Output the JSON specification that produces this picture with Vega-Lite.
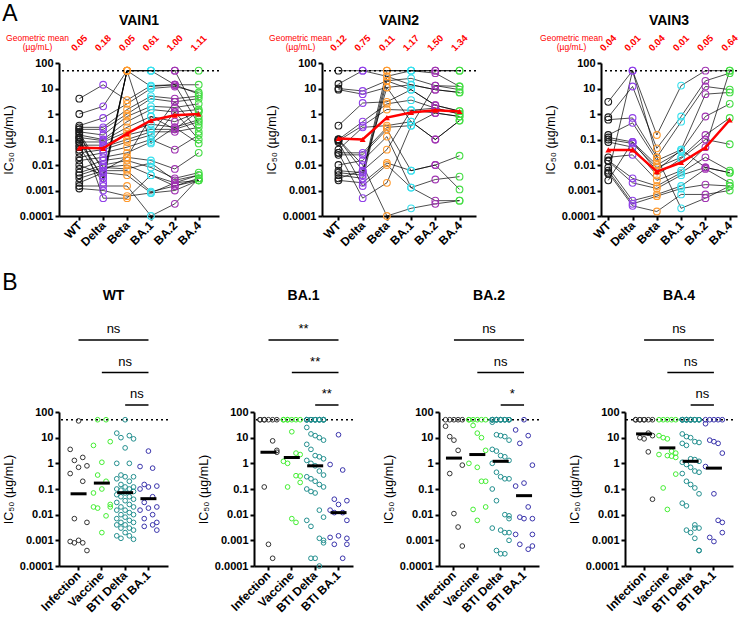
{
"$schema":"https://vega.github.io/schema/vega-lite/v6.json",
"background":"white",
"padding":{"left":2,"top":3,"right":2,"bottom":0},
"config":{
 "font":"Liberation Sans",
 "view":{"stroke":null},
 "axis":{"grid":false,"domainColor":"black","domainWidth":2,"tickColor":"black","tickWidth":2,"tickSize":4,"labelColor":"black","labelFontWeight":"bold","labelFontSize":11,"titleFontWeight":"normal","titleFontSize":12.5,"titleColor":"black","labelPadding":2},
 "axisX":{"labelFontSize":12},
 "title":{"fontSize":14,"fontWeight":"bold","color":"black"}
},
"resolve":{"scale":{"color":"independent"}},
"datasets":{
 "cats":[{"k":"WT","c":"WT"},{"k":"Delta","c":"Delta"},{"k":"Beta","c":"Beta"},{"k":"BA1","c":"BA.1"},{"k":"BA2","c":"BA.2"},{"k":"BA4","c":"BA.4"}],
 "a":[
  {"p":"VAIN1","s":1,"WT":4,"Delta":14,"Beta":3.5,"BA1":13,"BA2":14,"BA4":14},
  {"p":"VAIN1","s":2,"WT":1,"Delta":2,"Beta":50,"BA1":50,"BA2":50,"BA4":50},
  {"p":"VAIN1","s":3,"WT":0.35,"Delta":0.7,"Beta":2.5,"BA1":10,"BA2":12,"BA4":7},
  {"p":"VAIN1","s":4,"WT":0.3,"Delta":0.3,"Beta":1.5,"BA1":5,"BA2":4,"BA4":5},
  {"p":"VAIN1","s":5,"WT":0.25,"Delta":0.25,"Beta":1,"BA1":4,"BA2":3,"BA4":4},
  {"p":"VAIN1","s":6,"WT":0.2,"Delta":0.15,"Beta":0.8,"BA1":2,"BA2":1.8,"BA4":2.5},
  {"p":"VAIN1","s":7,"WT":0.15,"Delta":0.1,"Beta":0.5,"BA1":1.5,"BA2":1.2,"BA4":1.5},
  {"p":"VAIN1","s":8,"WT":0.12,"Delta":0.09,"Beta":0.3,"BA1":0.8,"BA2":0.5,"BA4":1.2},
  {"p":"VAIN1","s":9,"WT":0.1,"Delta":0.003,"Beta":50,"BA1":50,"BA2":50,"BA4":0.8},
  {"p":"VAIN1","s":10,"WT":0.08,"Delta":0.08,"Beta":0.2,"BA1":0.4,"BA2":0.3,"BA4":0.6},
  {"p":"VAIN1","s":11,"WT":0.06,"Delta":0.06,"Beta":0.15,"BA1":0.25,"BA2":0.25,"BA4":0.5},
  {"p":"VAIN1","s":12,"WT":0.05,"Delta":0.002,"Beta":50,"BA1":50,"BA2":14,"BA4":0.4},
  {"p":"VAIN1","s":13,"WT":0.04,"Delta":0.05,"Beta":0.1,"BA1":0.2,"BA2":0.2,"BA4":0.3},
  {"p":"VAIN1","s":14,"WT":0.03,"Delta":0.04,"Beta":0.08,"BA1":0.15,"BA2":3,"BA4":0.2},
  {"p":"VAIN1","s":15,"WT":0.02,"Delta":0.03,"Beta":0.05,"BA1":0.1,"BA2":0.04,"BA4":0.15},
  {"p":"VAIN1","s":16,"WT":0.015,"Delta":0.02,"Beta":0.03,"BA1":0.08,"BA2":1.2,"BA4":0.1},
  {"p":"VAIN1","s":17,"WT":0.01,"Delta":0.004,"Beta":50,"BA1":0.07,"BA2":0.3,"BA4":0.07},
  {"p":"VAIN1","s":18,"WT":0.007,"Delta":0.015,"Beta":0.02,"BA1":0.015,"BA2":0.007,"BA4":0.03},
  {"p":"VAIN1","s":19,"WT":0.005,"Delta":0.01,"Beta":0.015,"BA1":0.008,"BA2":0.003,"BA4":0.005},
  {"p":"VAIN1","s":20,"WT":0.004,"Delta":0.008,"Beta":0.01,"BA1":0.004,"BA2":0.002,"BA4":0.004},
  {"p":"VAIN1","s":21,"WT":0.003,"Delta":0.006,"Beta":0.006,"BA1":0.0009,"BA2":0.0015,"BA4":0.003},
  {"p":"VAIN1","s":22,"WT":0.002,"Delta":0.005,"Beta":0.004,"BA1":0.0008,"BA2":0.001,"BA4":0.0025},
  {"p":"VAIN1","s":23,"WT":0.0015,"Delta":0.0015,"Beta":0.0015,"BA1":0.0001,"BA2":0.0003,"BA4":0.003},
  {"p":"VAIN1","s":24,"WT":0.0012,"Delta":0.001,"Beta":0.0006,"BA1":0.0008,"BA2":0.002,"BA4":0.0025},
  {"p":"VAIN1","s":25,"WT":0.25,"Delta":0.0005,"Beta":0.0005,"BA1":0.004,"BA2":0.0015,"BA4":0.0025},
  {"p":"VAIN1","s":26,"WT":0.08,"Delta":0.003,"Beta":50,"BA1":12,"BA2":14,"BA4":6},
  {"p":"VAIN1","s":27,"WT":0.18,"Delta":0.006,"Beta":0.02,"BA1":0.8,"BA2":0.25,"BA4":1.3},
  {"p":"VAIN1","s":28,"WT":0.12,"Delta":0.008,"Beta":0.007,"BA1":0.012,"BA2":0.0025,"BA4":0.004},
  {"p":"VAIN2","s":1,"WT":50,"Delta":50,"Beta":50,"BA1":50,"BA2":50,"BA4":50},
  {"p":"VAIN2","s":2,"WT":15,"Delta":50,"Beta":30,"BA1":50,"BA2":40,"BA4":12},
  {"p":"VAIN2","s":3,"WT":10,"Delta":8,"Beta":20,"BA1":25,"BA2":13,"BA4":9},
  {"p":"VAIN2","s":4,"WT":9,"Delta":6,"Beta":11,"BA1":14,"BA2":9,"BA4":7},
  {"p":"VAIN2","s":5,"WT":0.35,"Delta":2.7,"Beta":3,"BA1":9,"BA2":2.2,"BA4":1.3},
  {"p":"VAIN2","s":6,"WT":0.1,"Delta":0.5,"Beta":2.5,"BA1":3.5,"BA2":1.7,"BA4":1},
  {"p":"VAIN2","s":7,"WT":0.09,"Delta":0.35,"Beta":1.5,"BA1":1.4,"BA2":1.1,"BA4":0.8},
  {"p":"VAIN2","s":8,"WT":0.04,"Delta":0.3,"Beta":0.35,"BA1":0.5,"BA2":0.1,"BA4":0.55},
  {"p":"VAIN2","s":9,"WT":0.03,"Delta":0.03,"Beta":0.3,"BA1":0.35,"BA2":13,"BA4":12},
  {"p":"VAIN2","s":10,"WT":0.025,"Delta":0.025,"Beta":0.25,"BA1":0.006,"BA2":0.01,"BA4":0.023},
  {"p":"VAIN2","s":11,"WT":0.01,"Delta":0.015,"Beta":0.13,"BA1":0.0013,"BA2":0.0027,"BA4":0.0035},
  {"p":"VAIN2","s":12,"WT":0.006,"Delta":0.005,"Beta":50,"BA1":50,"BA2":50,"BA4":50},
  {"p":"VAIN2","s":13,"WT":0.005,"Delta":0.004,"Beta":30,"BA1":14,"BA2":9,"BA4":7},
  {"p":"VAIN2","s":14,"WT":0.004,"Delta":0.003,"Beta":20,"BA1":9,"BA2":2.2,"BA4":1.3},
  {"p":"VAIN2","s":15,"WT":0.003,"Delta":0.006,"Beta":0.04,"BA1":1.4,"BA2":1.7,"BA4":1},
  {"p":"VAIN2","s":16,"WT":0.0025,"Delta":0.002,"Beta":0.012,"BA1":0.006,"BA2":0.01,"BA4":0.0011},
  {"p":"VAIN2","s":17,"WT":0.1,"Delta":0.01,"Beta":0.0001,"BA1":0.0002,"BA2":0.0003,"BA4":0.0004},
  {"p":"VAIN2","s":18,"WT":0.08,"Delta":0.0015,"Beta":0.01,"BA1":0.0013,"BA2":0.0004,"BA4":0.0004},
  {"p":"VAIN2","s":19,"WT":0.03,"Delta":0.0005,"Beta":0.002,"BA1":0.35,"BA2":1.1,"BA4":0.8},
  {"p":"VAIN2","s":20,"WT":0.1,"Delta":0.006,"Beta":11,"BA1":0.5,"BA2":0.1,"BA4":0.55},
  {"p":"VAIN3","s":1,"WT":3,"Delta":50,"Beta":0.15,"BA1":13,"BA2":50,"BA4":50},
  {"p":"VAIN3","s":2,"WT":0.75,"Delta":12,"Beta":0.045,"BA1":0.8,"BA2":20,"BA4":40},
  {"p":"VAIN3","s":3,"WT":0.6,"Delta":0.7,"Beta":0.02,"BA1":0.5,"BA2":12,"BA4":9},
  {"p":"VAIN3","s":4,"WT":0.15,"Delta":0.45,"Beta":0.015,"BA1":0.04,"BA2":6,"BA4":7},
  {"p":"VAIN3","s":5,"WT":0.12,"Delta":0.08,"Beta":0.01,"BA1":0.035,"BA2":0.8,"BA4":2.5},
  {"p":"VAIN3","s":6,"WT":0.1,"Delta":0.07,"Beta":0.008,"BA1":0.02,"BA2":0.15,"BA4":0.7},
  {"p":"VAIN3","s":7,"WT":0.08,"Delta":0.05,"Beta":0.004,"BA1":0.018,"BA2":0.1,"BA4":0.065},
  {"p":"VAIN3","s":8,"WT":0.02,"Delta":0.025,"Beta":0.0025,"BA1":0.006,"BA2":0.05,"BA4":50},
  {"p":"VAIN3","s":9,"WT":0.015,"Delta":0.003,"Beta":0.0015,"BA1":0.005,"BA2":0.02,"BA4":0.006},
  {"p":"VAIN3","s":10,"WT":0.014,"Delta":0.002,"Beta":0.0012,"BA1":0.004,"BA2":0.008,"BA4":0.005},
  {"p":"VAIN3","s":11,"WT":0.008,"Delta":0.0004,"Beta":0.0007,"BA1":0.0015,"BA2":0.007,"BA4":0.002},
  {"p":"VAIN3","s":12,"WT":0.006,"Delta":0.0003,"Beta":0.0006,"BA1":0.0012,"BA2":0.0017,"BA4":0.0015},
  {"p":"VAIN3","s":13,"WT":0.005,"Delta":0.00025,"Beta":0.00015,"BA1":0.0007,"BA2":0.0007,"BA4":0.001},
  {"p":"VAIN3","s":14,"WT":0.0045,"Delta":50,"Beta":0.02,"BA1":0.0002,"BA2":0.0005,"BA4":0.0015},
  {"p":"VAIN3","s":15,"WT":0.0025,"Delta":0.08,"Beta":0.006,"BA1":0.04,"BA2":0.008,"BA4":0.005}
 ],
 "gm":[
  {"p":"VAIN1","c":"WT","m":0.047,"lab":"0.05"},{"p":"VAIN1","c":"Delta","m":0.045,"lab":"0.18"},{"p":"VAIN1","c":"Beta","m":0.17,"lab":"0.05"},{"p":"VAIN1","c":"BA.1","m":0.56,"lab":"0.61"},{"p":"VAIN1","c":"BA.2","m":0.9,"lab":"1.00"},{"p":"VAIN1","c":"BA.4","m":1.0,"lab":"1.11"},
  {"p":"VAIN2","c":"WT","m":0.11,"lab":"0.12"},{"p":"VAIN2","c":"Delta","m":0.1,"lab":"0.75"},{"p":"VAIN2","c":"Beta","m":0.72,"lab":"0.11"},{"p":"VAIN2","c":"BA.1","m":1.15,"lab":"1.17"},{"p":"VAIN2","c":"BA.2","m":1.4,"lab":"1.50"},{"p":"VAIN2","c":"BA.4","m":1.25,"lab":"1.34"},
  {"p":"VAIN3","c":"WT","m":0.039,"lab":"0.04"},{"p":"VAIN3","c":"Delta","m":0.039,"lab":"0.01"},{"p":"VAIN3","c":"Beta","m":0.0055,"lab":"0.04"},{"p":"VAIN3","c":"BA.1","m":0.0125,"lab":"0.01"},{"p":"VAIN3","c":"BA.2","m":0.048,"lab":"0.05"},{"p":"VAIN3","c":"BA.4","m":0.58,"lab":"0.64"}
 ],
 "b":[
  {"p":"WT","g":"Infection","v":[3.5,0.4,0.0009,1.3,0.007,0.0008,45,0.7,0.001,1.7,0.2,0.0008,0.8,0.005,0.0004]},
  {"p":"WT","g":"Vaccine","v":[5,0.07,0.02,50,0.35,0.018,1.1,0.1,0.002,50,0.2,0.009,7,0.025,0.02]},
  {"p":"WT","g":"BTI Delta","v":[15,1,0.25,0.1,0.06,0.03,0.015,0.007,0.004,0.0015,10,0.35,0.15,0.09,0.05,0.02,0.01,0.005,0.003,0.0012,50,4,0.3,0.12,0.07,0.035,0.015,0.008,0.004,0.002,12,1,0.2,0.1,0.05,0.025,0.012,0.006,0.003,0.0015,9,0.3,0.12,0.08,0.04,0.02,0.01,0.005,0.0025,0.0011]},
  {"p":"WT","g":"BTI BA.1","v":[0.75,0.1,0.015,0.0035,0.15,0.03,0.007,3,0.12,0.018,0.004,0.65,0.05,0.01,0.0025,0.13,0.02,0.005]},
  {"p":"BA.1","g":"Infection","v":[50,50,0.12,50,50,0.0007,50,7.5,0.0002,50,3.2,50,2.7]},
  {"p":"BA.1","g":"Vaccine","v":[50,50,1.2,0.12,50,50,1,0.007,50,17,0.33,0.005,50,2.5,0.32,50,2.2,0.18]},
  {"p":"BA.1","g":"BTI Delta","v":[50,50,50,50,25,5.5,1.3,0.3,0.1,0.006,0.0002,50,50,50,50,14,3.5,1,0.25,0.08,0.0035,0.0002,50,50,50,50,12,2,0.8,0.2,0.07,0.0012,0.0001,50,50,50,50,10,1.8,0.5,0.15,0.015,0.001,50,50,50,50,8,1.5,0.35,0.12,0.008,0.0008]},
  {"p":"BA.1","g":"BTI BA.1","v":[0.9,0.015,0.0013,0.04,0.012,0.0007,13,0.025,0.0015,0.0002,0.55,0.012,0.0012,0.035,0.006,0.0007]},
  {"p":"BA.2","g":"Infection","v":[50,28,0.4,50,11,0.011,50,8,0.0033,50,3.2,0.0006,50,0.85]},
  {"p":"BA.2","g":"Vaccine","v":[50,50,1,0.016,50,30,0.7,0.006,50,15,0.2,50,10,0.2,50,3.2,0.02]},
  {"p":"BA.2","g":"BTI Delta","v":[50,50,50,50,40,3.5,1,0.1,0.003,0.0004,50,50,50,50,13,3,0.45,0.035,0.0025,0.0003,50,50,50,50,12,2,0.3,0.01,0.002,0.0003,50,50,50,11,1.8,0.25,0.009,0.002,50,50,50,8,1.3,0.25,0.007,0.001]},
  {"p":"BA.2","g":"BTI BA.1","v":[20,0.13,0.0017,6,0.008,0.0007,50,0.17,0.007,0.00045,12,0.02,0.0017,0.85,0.007,0.0006]},
  {"p":"BA.4","g":"Infection","v":[50,50,10,50,50,9,50,50,2.8,50,15,0.04,50,12]},
  {"p":"BA.4","g":"Vaccine","v":[50,12,2.2,0.11,50,10,2,0.016,50,9,1.9,50,3,1.7,50,2.5,0.38]},
  {"p":"BA.4","g":"BTI Delta","v":[50,50,50,50,14,6,1.1,0.4,0.028,0.0025,50,50,50,50,11,5,0.9,0.2,0.022,0.002,50,50,50,50,10,1.5,0.7,0.15,0.004,0.0012,50,50,50,7,1.4,0.5,0.11,0.003,0.0004,50,50,50,6.5,1.2,0.45,0.065,0.003,0.0004]},
  {"p":"BA.4","g":"BTI BA.1","v":[50,35,0.75,0.0013,50,8,0.065,0.0009,50,7,0.006,50,6,0.005,50,2.5,0.002]}
 ],
 "med":[
  {"p":"WT","g":"Infection","m":0.065},{"p":"WT","g":"Vaccine","m":0.17},{"p":"WT","g":"BTI Delta","m":0.072},{"p":"WT","g":"BTI BA.1","m":0.042},
  {"p":"BA.1","g":"Infection","m":2.7},{"p":"BA.1","g":"Vaccine","m":1.7},{"p":"BA.1","g":"BTI Delta","m":0.8},{"p":"BA.1","g":"BTI BA.1","m":0.012},
  {"p":"BA.2","g":"Infection","m":1.6},{"p":"BA.2","g":"Vaccine","m":2.2},{"p":"BA.2","g":"BTI Delta","m":1.2},{"p":"BA.2","g":"BTI BA.1","m":0.055},
  {"p":"BA.4","g":"Infection","m":14},{"p":"BA.4","g":"Vaccine","m":4},{"p":"BA.4","g":"BTI Delta","m":1.2},{"p":"BA.4","g":"BTI BA.1","m":0.65}
 ],
 "sig":[
  {"p":"WT","k":1,"g":1,"lab":"ns"},{"p":"WT","k":1,"g":4,"lab":"ns"},{"p":"WT","k":2,"g":2,"lab":"ns"},{"p":"WT","k":2,"g":4,"lab":"ns"},{"p":"WT","k":3,"g":3,"lab":"ns"},{"p":"WT","k":3,"g":4,"lab":"ns"},
  {"p":"BA.1","k":1,"g":1,"lab":"**"},{"p":"BA.1","k":1,"g":4,"lab":"**"},{"p":"BA.1","k":2,"g":2,"lab":"**"},{"p":"BA.1","k":2,"g":4,"lab":"**"},{"p":"BA.1","k":3,"g":3,"lab":"**"},{"p":"BA.1","k":3,"g":4,"lab":"**"},
  {"p":"BA.2","k":1,"g":1,"lab":"ns"},{"p":"BA.2","k":1,"g":4,"lab":"ns"},{"p":"BA.2","k":2,"g":2,"lab":"ns"},{"p":"BA.2","k":2,"g":4,"lab":"ns"},{"p":"BA.2","k":3,"g":3,"lab":"*"},{"p":"BA.2","k":3,"g":4,"lab":"*"},
  {"p":"BA.4","k":1,"g":1,"lab":"ns"},{"p":"BA.4","k":1,"g":4,"lab":"ns"},{"p":"BA.4","k":2,"g":2,"lab":"ns"},{"p":"BA.4","k":2,"g":4,"lab":"ns"},{"p":"BA.4","k":3,"g":3,"lab":"ns"},{"p":"BA.4","k":3,"g":4,"lab":"ns"}
 ]
},
"vconcat":[
 {"title":{"text":"A","anchor":"start","fontSize":23,"fontWeight":"normal","offset":-12},
  "spacing":45,
  "hconcat":[
   {"title":{"text":"VAIN1","offset":5},"width":160,"height":153,
    "layer":[
     {"data":{"name":"a"},"transform":[{"filter":"datum.p=='VAIN1'"},{"fold":["WT","Delta","Beta","BA1","BA2","BA4"],"as":["k","v"]},{"lookup":"k","from":{"data":{"name":"cats"},"key":"k","fields":["c"]}}],
      "layer":[
       {"mark":{"type":"line","color":"black","strokeWidth":0.7},"encoding":{"x":{"field":"c","type":"nominal","sort":["WT","Delta","Beta","BA.1","BA.2","BA.4"],"scale":{"type":"point","padding":0.85},"axis":{"orient":"bottom","title":null,"labelAngle":-45,"labelAlign":"right","labelBaseline":"middle","labelPadding":3}},"y":{"field":"v","type":"quantitative","scale":{"type":"log","domain":[0.0001,100],"nice":false},"axis":{"values":[100,10,1,0.1,0.01,0.001,0.0001],"format":"~g","title":"IC₅₀ (µg/mL)","titlePadding":4}},"detail":{"field":"s","type":"nominal"}}},
       {"mark":{"type":"point","shape":"circle","filled":false,"size":45,"strokeWidth":1.1,"opacity":1},"encoding":{"x":{"field":"c","type":"nominal","sort":["WT","Delta","Beta","BA.1","BA.2","BA.4"],"scale":{"type":"point","padding":0.85}},"y":{"field":"v","type":"quantitative","scale":{"type":"log","domain":[0.0001,100],"nice":false}},"color":{"field":"c","type":"nominal","scale":{"domain":["WT","Delta","Beta","BA.1","BA.2","BA.4"],"range":["#1a1a1a","#9040e8","#ff9a2e","#38e0ee","#a032b2","#44dd44"]},"legend":null}}}
      ]},
     {"data":{"values":[{}]},"mark":{"type":"rule","strokeDash":[2,3],"strokeWidth":1.5,"color":"black"},"encoding":{"y":{"datum":50,"type":"quantitative","scale":{"type":"log","domain":[0.0001,100],"nice":false}}}},
     {"data":{"name":"gm"},"transform":[{"filter":"datum.p=='VAIN1'"}],
      "layer":[
       {"mark":{"type":"line","color":"#ff0000","strokeWidth":2.5,"point":{"shape":"triangle-up","size":35,"filled":true,"color":"#ff0000"}},"encoding":{"x":{"field":"c","type":"nominal","sort":["WT","Delta","Beta","BA.1","BA.2","BA.4"],"scale":{"type":"point","padding":0.85}},"y":{"field":"m","type":"quantitative","scale":{"type":"log","domain":[0.0001,100],"nice":false}}}},
       {"mark":{"type":"text","angle":-45,"color":"#ff0000","fontSize":9.5,"fontWeight":"bold","align":"center","baseline":"middle"},"encoding":{"x":{"field":"c","type":"nominal","sort":["WT","Delta","Beta","BA.1","BA.2","BA.4"],"scale":{"type":"point","padding":0.85},"axis":{"orient":"top","labels":false,"ticks":false,"domain":false,"title":["Geometric mean","(µg/mL)"],"titleColor":"#ff0000","titleFontSize":8.5,"titleFontWeight":"normal","titleAngle":0,"titleAlign":"center","titleBaseline":"alphabetic","titleX":-22,"titleY":-23,"titleLineHeight":9.5}},"y":{"datum":600,"type":"quantitative","scale":{"type":"log","domain":[0.0001,100],"nice":false}},"text":{"field":"lab","type":"nominal"}}}
      ]}
    ],
    "resolve":{"axis":{"x":"independent"}}},
   {"spacing":62,
    "hconcat":[
     {"title":{"text":"VAIN2","offset":5},"width":154,"height":153,
      "layer":[
       {"data":{"name":"a"},"transform":[{"filter":"datum.p=='VAIN2'"},{"fold":["WT","Delta","Beta","BA1","BA2","BA4"],"as":["k","v"]},{"lookup":"k","from":{"data":{"name":"cats"},"key":"k","fields":["c"]}}],
        "layer":[
         {"mark":{"type":"line","color":"black","strokeWidth":0.7},"encoding":{"x":{"field":"c","type":"nominal","sort":["WT","Delta","Beta","BA.1","BA.2","BA.4"],"scale":{"type":"point","padding":0.68},"axis":{"orient":"bottom","title":null,"labelAngle":-45,"labelAlign":"right","labelBaseline":"middle","labelPadding":3}},"y":{"field":"v","type":"quantitative","scale":{"type":"log","domain":[0.0001,100],"nice":false},"axis":{"values":[100,10,1,0.1,0.01,0.001,0.0001],"format":"~g","title":"IC₅₀ (µg/mL)","titlePadding":4}},"detail":{"field":"s","type":"nominal"}}},
         {"mark":{"type":"point","shape":"circle","filled":false,"size":45,"strokeWidth":1.1,"opacity":1},"encoding":{"x":{"field":"c","type":"nominal","sort":["WT","Delta","Beta","BA.1","BA.2","BA.4"],"scale":{"type":"point","padding":0.68}},"y":{"field":"v","type":"quantitative","scale":{"type":"log","domain":[0.0001,100],"nice":false}},"color":{"field":"c","type":"nominal","scale":{"domain":["WT","Delta","Beta","BA.1","BA.2","BA.4"],"range":["#1a1a1a","#9040e8","#ff9a2e","#38e0ee","#a032b2","#44dd44"]},"legend":null}}}
        ]},
       {"data":{"values":[{}]},"mark":{"type":"rule","strokeDash":[2,3],"strokeWidth":1.5,"color":"black"},"encoding":{"y":{"datum":50,"type":"quantitative","scale":{"type":"log","domain":[0.0001,100],"nice":false}}}},
       {"data":{"name":"gm"},"transform":[{"filter":"datum.p=='VAIN2'"}],
        "layer":[
         {"mark":{"type":"line","color":"#ff0000","strokeWidth":2.5,"point":{"shape":"triangle-up","size":35,"filled":true,"color":"#ff0000"}},"encoding":{"x":{"field":"c","type":"nominal","sort":["WT","Delta","Beta","BA.1","BA.2","BA.4"],"scale":{"type":"point","padding":0.68}},"y":{"field":"m","type":"quantitative","scale":{"type":"log","domain":[0.0001,100],"nice":false}}}},
         {"mark":{"type":"text","angle":-45,"color":"#ff0000","fontSize":9.5,"fontWeight":"bold","align":"center","baseline":"middle"},"encoding":{"x":{"field":"c","type":"nominal","sort":["WT","Delta","Beta","BA.1","BA.2","BA.4"],"scale":{"type":"point","padding":0.68},"axis":{"orient":"top","labels":false,"ticks":false,"domain":false,"title":["Geometric mean","(µg/mL)"],"titleColor":"#ff0000","titleFontSize":8.5,"titleFontWeight":"normal","titleAngle":0,"titleAlign":"center","titleBaseline":"alphabetic","titleX":-22,"titleY":-23,"titleLineHeight":9.5}},"y":{"datum":600,"type":"quantitative","scale":{"type":"log","domain":[0.0001,100],"nice":false}},"text":{"field":"lab","type":"nominal"}}}
        ]}
      ],
      "resolve":{"axis":{"x":"independent"}}},
     {"title":{"text":"VAIN3","offset":5},"width":136,"height":153,
      "layer":[
       {"data":{"name":"a"},"transform":[{"filter":"datum.p=='VAIN3'"},{"fold":["WT","Delta","Beta","BA1","BA2","BA4"],"as":["k","v"]},{"lookup":"k","from":{"data":{"name":"cats"},"key":"k","fields":["c"]}}],
        "layer":[
         {"mark":{"type":"line","color":"black","strokeWidth":0.7},"encoding":{"x":{"field":"c","type":"nominal","sort":["WT","Delta","Beta","BA.1","BA.2","BA.4"],"scale":{"type":"point","padding":0.3},"axis":{"orient":"bottom","title":null,"labelAngle":-45,"labelAlign":"right","labelBaseline":"middle","labelPadding":3}},"y":{"field":"v","type":"quantitative","scale":{"type":"log","domain":[0.0001,100],"nice":false},"axis":{"values":[100,10,1,0.1,0.01,0.001,0.0001],"format":"~g","title":"IC₅₀ (µg/mL)","titlePadding":4}},"detail":{"field":"s","type":"nominal"}}},
         {"mark":{"type":"point","shape":"circle","filled":false,"size":45,"strokeWidth":1.1,"opacity":1},"encoding":{"x":{"field":"c","type":"nominal","sort":["WT","Delta","Beta","BA.1","BA.2","BA.4"],"scale":{"type":"point","padding":0.3}},"y":{"field":"v","type":"quantitative","scale":{"type":"log","domain":[0.0001,100],"nice":false}},"color":{"field":"c","type":"nominal","scale":{"domain":["WT","Delta","Beta","BA.1","BA.2","BA.4"],"range":["#1a1a1a","#9040e8","#ff9a2e","#38e0ee","#a032b2","#44dd44"]},"legend":null}}}
        ]},
       {"data":{"values":[{}]},"mark":{"type":"rule","strokeDash":[2,3],"strokeWidth":1.5,"color":"black"},"encoding":{"y":{"datum":50,"type":"quantitative","scale":{"type":"log","domain":[0.0001,100],"nice":false}}}},
       {"data":{"name":"gm"},"transform":[{"filter":"datum.p=='VAIN3'"}],
        "layer":[
         {"mark":{"type":"line","color":"#ff0000","strokeWidth":2.5,"point":{"shape":"triangle-up","size":35,"filled":true,"color":"#ff0000"}},"encoding":{"x":{"field":"c","type":"nominal","sort":["WT","Delta","Beta","BA.1","BA.2","BA.4"],"scale":{"type":"point","padding":0.3}},"y":{"field":"m","type":"quantitative","scale":{"type":"log","domain":[0.0001,100],"nice":false}}}},
         {"mark":{"type":"text","angle":-45,"color":"#ff0000","fontSize":9.5,"fontWeight":"bold","align":"center","baseline":"middle"},"encoding":{"x":{"field":"c","type":"nominal","sort":["WT","Delta","Beta","BA.1","BA.2","BA.4"],"scale":{"type":"point","padding":0.3},"axis":{"orient":"top","labels":false,"ticks":false,"domain":false,"title":["Geometric mean","(µg/mL)"],"titleColor":"#ff0000","titleFontSize":8.5,"titleFontWeight":"normal","titleAngle":0,"titleAlign":"center","titleBaseline":"alphabetic","titleX":-30,"titleY":-23,"titleLineHeight":9.5}},"y":{"datum":600,"type":"quantitative","scale":{"type":"log","domain":[0.0001,100],"nice":false}},"text":{"field":"lab","type":"nominal"}}}
        ]}
      ],
      "resolve":{"axis":{"x":"independent"}}}
    ]}
  ]},
 {"title":{"text":"B","anchor":"start","fontSize":23,"fontWeight":"normal","offset":-6},
  "spacing":28,
  "hconcat":[
   {"spacing":0,"vconcat":[
     {"title":{"text":"WT","offset":20},"width":109,"height":65,"data":{"name":"sig"},"transform":[{"filter":"datum.p=='WT'"}],
      "layer":[
       {"mark":{"type":"rule","color":"black","strokeWidth":1.5},"encoding":{"x":{"aggregate":"min","field":"g","type":"quantitative","scale":{"domain":[0.163,4.837],"nice":false,"zero":false},"axis":null},"x2":{"aggregate":"max","field":"g"},"y":{"field":"k","type":"ordinal","scale":{"type":"point","padding":0},"axis":null}}},
       {"mark":{"type":"text","dy":-11,"fontSize":13,"color":"black","baseline":"middle"},"encoding":{"x":{"aggregate":"mean","field":"g","type":"quantitative","axis":null},"y":{"field":"k","type":"ordinal","axis":null},"text":{"field":"lab","type":"nominal"}}}
      ]},
     {"width":109,"height":154,
      "layer":[
       {"data":{"values":[{}]},"mark":{"type":"rule","strokeDash":[2,3],"strokeWidth":1.5,"color":"black"},"encoding":{"y":{"datum":50,"type":"quantitative","scale":{"type":"log","domain":[0.0001,100],"nice":false}}}},
       {"data":{"name":"b"},"transform":[{"filter":"datum.p=='WT'"},{"flatten":["v"]},{"window":[{"op":"ntile","param":5,"as":"lane"}],"groupby":["g"]}],
        "mark":{"type":"point","shape":"circle","filled":false,"size":22,"strokeWidth":1,"opacity":1},
        "encoding":{"x":{"field":"g","type":"nominal","sort":["Infection","Vaccine","BTI Delta","BTI BA.1"],"scale":{"paddingInner":0.1,"paddingOuter":0.39},"axis":{"title":null,"labelAngle":-45,"labelAlign":"right","labelBaseline":"middle","labelPadding":3}},"xOffset":{"field":"lane","type":"ordinal","scale":{"domain":[1,2,3,4,5]}},"y":{"field":"v","type":"quantitative","scale":{"type":"log","domain":[0.0001,100],"nice":false},"axis":{"values":[100,10,1,0.1,0.01,0.001,0.0001],"format":"~g","title":"IC₅₀ (µg/mL)","titlePadding":4}},"color":{"field":"g","type":"nominal","scale":{"domain":["Infection","Vaccine","BTI Delta","BTI BA.1"],"range":["#333333","#44ee33","#238f8f","#3a34ac"]},"legend":null}}},
       {"data":{"name":"med"},"transform":[{"filter":"datum.p=='WT'"}],"mark":{"type":"tick","color":"black","opacity":1,"thickness":3,"size":16},"encoding":{"x":{"field":"g","type":"nominal","sort":["Infection","Vaccine","BTI Delta","BTI BA.1"]},"y":{"field":"m","type":"quantitative","scale":{"type":"log","domain":[0.0001,100],"nice":false}}}}
      ]}
   ]},
   {"spacing":0,"vconcat":[
     {"title":{"text":"BA.1","offset":20},"width":99,"height":65,"data":{"name":"sig"},"transform":[{"filter":"datum.p=='BA.1'"}],
      "layer":[
       {"mark":{"type":"rule","color":"black","strokeWidth":1.5},"encoding":{"x":{"aggregate":"min","field":"g","type":"quantitative","scale":{"domain":[0.379,4.621],"nice":false,"zero":false},"axis":null},"x2":{"aggregate":"max","field":"g"},"y":{"field":"k","type":"ordinal","scale":{"type":"point","padding":0},"axis":null}}},
       {"mark":{"type":"text","dy":-11,"fontSize":13,"color":"black","baseline":"middle"},"encoding":{"x":{"aggregate":"mean","field":"g","type":"quantitative","axis":null},"y":{"field":"k","type":"ordinal","axis":null},"text":{"field":"lab","type":"nominal"}}}
      ]},
     {"width":99,"height":154,
      "layer":[
       {"data":{"values":[{}]},"mark":{"type":"rule","strokeDash":[2,3],"strokeWidth":1.5,"color":"black"},"encoding":{"y":{"datum":50,"type":"quantitative","scale":{"type":"log","domain":[0.0001,100],"nice":false}}}},
       {"data":{"name":"b"},"transform":[{"filter":"datum.p=='BA.1'"},{"flatten":["v"]},{"window":[{"op":"ntile","param":5,"as":"lane"}],"groupby":["g"]}],
        "mark":{"type":"point","shape":"circle","filled":false,"size":22,"strokeWidth":1,"opacity":1},
        "encoding":{"x":{"field":"g","type":"nominal","sort":["Infection","Vaccine","BTI Delta","BTI BA.1"],"scale":{"paddingInner":0.1,"paddingOuter":0.17},"axis":{"title":null,"labelAngle":-45,"labelAlign":"right","labelBaseline":"middle","labelPadding":3}},"xOffset":{"field":"lane","type":"ordinal","scale":{"domain":[1,2,3,4,5]}},"y":{"field":"v","type":"quantitative","scale":{"type":"log","domain":[0.0001,100],"nice":false},"axis":{"values":[100,10,1,0.1,0.01,0.001,0.0001],"format":"~g","title":"IC₅₀ (µg/mL)","titlePadding":4}},"color":{"field":"g","type":"nominal","scale":{"domain":["Infection","Vaccine","BTI Delta","BTI BA.1"],"range":["#333333","#44ee33","#238f8f","#3a34ac"]},"legend":null}}},
       {"data":{"name":"med"},"transform":[{"filter":"datum.p=='BA.1'"}],"mark":{"type":"tick","color":"black","opacity":1,"thickness":3,"size":16},"encoding":{"x":{"field":"g","type":"nominal","sort":["Infection","Vaccine","BTI Delta","BTI BA.1"]},"y":{"field":"m","type":"quantitative","scale":{"type":"log","domain":[0.0001,100],"nice":false}}}}
      ]}
   ]},
   {"spacing":0,"vconcat":[
     {"title":{"text":"BA.2","offset":20},"width":100,"height":65,"data":{"name":"sig"},"transform":[{"filter":"datum.p=='BA.2'"}],
      "layer":[
       {"mark":{"type":"rule","color":"black","strokeWidth":1.5},"encoding":{"x":{"aggregate":"min","field":"g","type":"quantitative","scale":{"domain":[0.36,4.64],"nice":false,"zero":false},"axis":null},"x2":{"aggregate":"max","field":"g"},"y":{"field":"k","type":"ordinal","scale":{"type":"point","padding":0},"axis":null}}},
       {"mark":{"type":"text","dy":-11,"fontSize":13,"color":"black","baseline":"middle"},"encoding":{"x":{"aggregate":"mean","field":"g","type":"quantitative","axis":null},"y":{"field":"k","type":"ordinal","axis":null},"text":{"field":"lab","type":"nominal"}}}
      ]},
     {"width":100,"height":154,
      "layer":[
       {"data":{"values":[{}]},"mark":{"type":"rule","strokeDash":[2,3],"strokeWidth":1.5,"color":"black"},"encoding":{"y":{"datum":50,"type":"quantitative","scale":{"type":"log","domain":[0.0001,100],"nice":false}}}},
       {"data":{"name":"b"},"transform":[{"filter":"datum.p=='BA.2'"},{"flatten":["v"]},{"window":[{"op":"ntile","param":5,"as":"lane"}],"groupby":["g"]}],
        "mark":{"type":"point","shape":"circle","filled":false,"size":22,"strokeWidth":1,"opacity":1},
        "encoding":{"x":{"field":"g","type":"nominal","sort":["Infection","Vaccine","BTI Delta","BTI BA.1"],"scale":{"paddingInner":0.1,"paddingOuter":0.19},"axis":{"title":null,"labelAngle":-45,"labelAlign":"right","labelBaseline":"middle","labelPadding":3}},"xOffset":{"field":"lane","type":"ordinal","scale":{"domain":[1,2,3,4,5]}},"y":{"field":"v","type":"quantitative","scale":{"type":"log","domain":[0.0001,100],"nice":false},"axis":{"values":[100,10,1,0.1,0.01,0.001,0.0001],"format":"~g","title":"IC₅₀ (µg/mL)","titlePadding":4}},"color":{"field":"g","type":"nominal","scale":{"domain":["Infection","Vaccine","BTI Delta","BTI BA.1"],"range":["#333333","#44ee33","#238f8f","#3a34ac"]},"legend":null}}},
       {"data":{"name":"med"},"transform":[{"filter":"datum.p=='BA.2'"}],"mark":{"type":"tick","color":"black","opacity":1,"thickness":3,"size":16},"encoding":{"x":{"field":"g","type":"nominal","sort":["Infection","Vaccine","BTI Delta","BTI BA.1"]},"y":{"field":"m","type":"quantitative","scale":{"type":"log","domain":[0.0001,100],"nice":false}}}}
      ]}
   ]},
   {"spacing":0,"vconcat":[
     {"title":{"text":"BA.4","offset":20},"width":108,"height":65,"data":{"name":"sig"},"transform":[{"filter":"datum.p=='BA.4'"}],
      "layer":[
       {"mark":{"type":"rule","color":"black","strokeWidth":1.5},"encoding":{"x":{"aggregate":"min","field":"g","type":"quantitative","scale":{"domain":[0.18,4.82],"nice":false,"zero":false},"axis":null},"x2":{"aggregate":"max","field":"g"},"y":{"field":"k","type":"ordinal","scale":{"type":"point","padding":0},"axis":null}}},
       {"mark":{"type":"text","dy":-11,"fontSize":13,"color":"black","baseline":"middle"},"encoding":{"x":{"aggregate":"mean","field":"g","type":"quantitative","axis":null},"y":{"field":"k","type":"ordinal","axis":null},"text":{"field":"lab","type":"nominal"}}}
      ]},
     {"width":108,"height":154,
      "layer":[
       {"data":{"values":[{}]},"mark":{"type":"rule","strokeDash":[2,3],"strokeWidth":1.5,"color":"black"},"encoding":{"y":{"datum":50,"type":"quantitative","scale":{"type":"log","domain":[0.0001,100],"nice":false}}}},
       {"data":{"name":"b"},"transform":[{"filter":"datum.p=='BA.4'"},{"flatten":["v"]},{"window":[{"op":"ntile","param":5,"as":"lane"}],"groupby":["g"]}],
        "mark":{"type":"point","shape":"circle","filled":false,"size":22,"strokeWidth":1,"opacity":1},
        "encoding":{"x":{"field":"g","type":"nominal","sort":["Infection","Vaccine","BTI Delta","BTI BA.1"],"scale":{"paddingInner":0.1,"paddingOuter":0.37},"axis":{"title":null,"labelAngle":-45,"labelAlign":"right","labelBaseline":"middle","labelPadding":3}},"xOffset":{"field":"lane","type":"ordinal","scale":{"domain":[1,2,3,4,5]}},"y":{"field":"v","type":"quantitative","scale":{"type":"log","domain":[0.0001,100],"nice":false},"axis":{"values":[100,10,1,0.1,0.01,0.001,0.0001],"format":"~g","title":"IC₅₀ (µg/mL)","titlePadding":4}},"color":{"field":"g","type":"nominal","scale":{"domain":["Infection","Vaccine","BTI Delta","BTI BA.1"],"range":["#333333","#44ee33","#238f8f","#3a34ac"]},"legend":null}}},
       {"data":{"name":"med"},"transform":[{"filter":"datum.p=='BA.4'"}],"mark":{"type":"tick","color":"black","opacity":1,"thickness":3,"size":16},"encoding":{"x":{"field":"g","type":"nominal","sort":["Infection","Vaccine","BTI Delta","BTI BA.1"]},"y":{"field":"m","type":"quantitative","scale":{"type":"log","domain":[0.0001,100],"nice":false}}}}
      ]}
   ]}
  ]}
],
"spacing":24
}
